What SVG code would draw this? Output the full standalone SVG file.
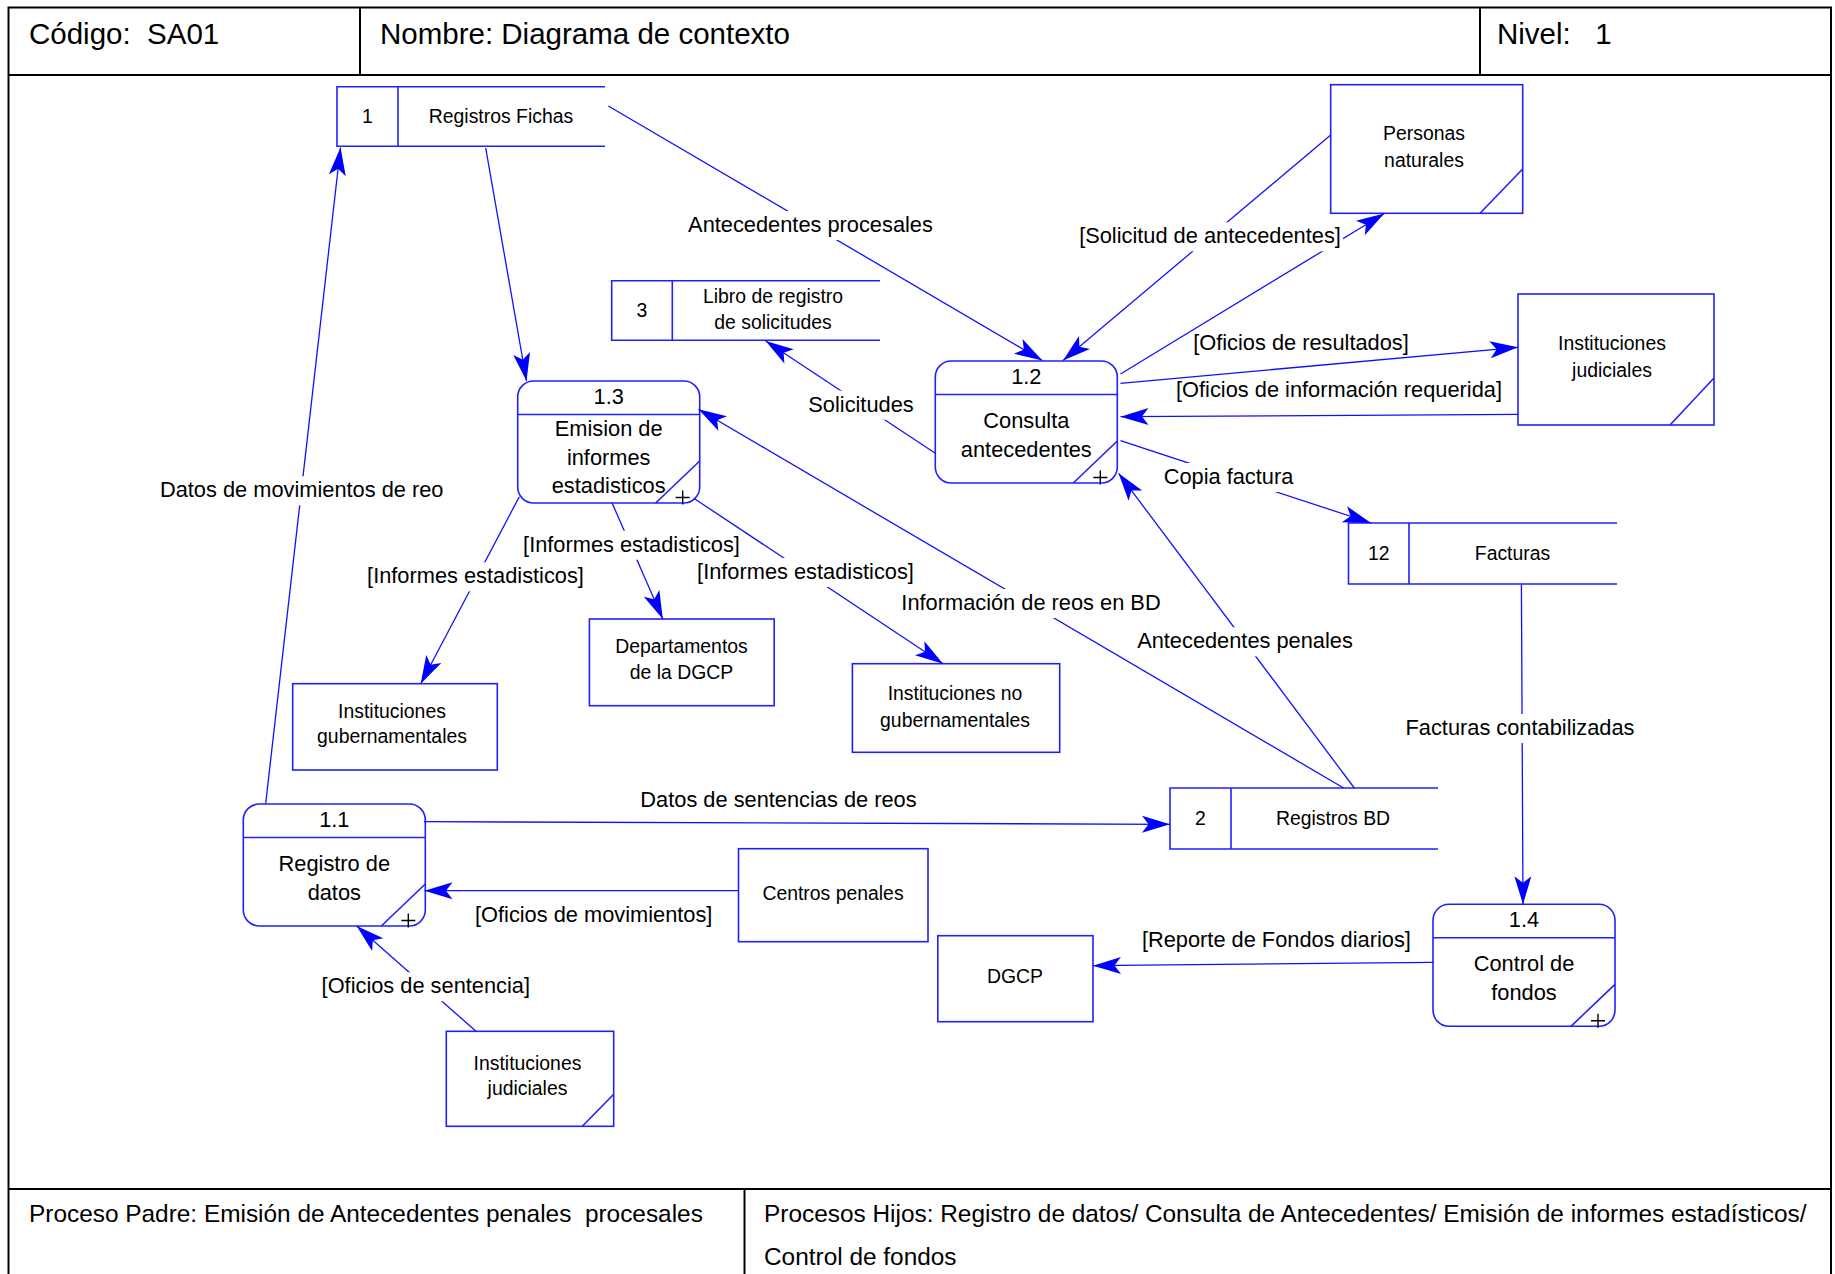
<svg xmlns="http://www.w3.org/2000/svg" xmlns:xlink="http://www.w3.org/1999/xlink" width="1835" height="1274" viewBox="0 0 1835 1274">
  <style>
    .frame { fill: none; stroke: #000; stroke-width: 2; }
    .node { fill: #fff; stroke: #2020ff; stroke-width: 1.6; }
    .ln { fill: none; stroke: #2020ff; stroke-width: 1.6; }
    .plus { fill: none; stroke: #000; stroke-width: 1.4; }
    .flow { fill: none; stroke: #1010ff; stroke-width: 1.3; marker-end: url(#arr); }
    .t { font-family: "Liberation Sans", Arial, sans-serif; fill: #000; }
    .hd { font-size: 29.5px; }
    .ft { font-size: 24.4px; }
    .lbl { font-size: 21.8px; text-anchor: middle; }
    .pt { font-size: 21.8px; text-anchor: middle; }
    .st { font-size: 19.4px; text-anchor: middle; }
    .bg { fill: #fff; stroke: none; }
  </style>
  <defs>
    <marker id="arr" markerUnits="userSpaceOnUse" viewBox="-30 -10 31 20" markerWidth="31" markerHeight="20" refX="0" refY="0" orient="auto">
      <path d="M0,0 L-28,-8.5 L-21.5,0 L-28,8.5 Z" fill="#0000ff"/>
    </marker>
    <!-- process bubble: rounded box, id band, duplicate corner and "+" for a refined process -->
    <g id="proc">
      <rect class="node" x="0" y="0" width="182" height="122" rx="16" ry="16"/>
      <line class="ln" x1="0" y1="33.5" x2="182" y2="33.5"/>
      <line class="ln" x1="138" y1="122" x2="182" y2="80"/>
      <path class="plus" d="M158,116.5 H172 M165,109.5 V123.5"/>
    </g>
  </defs>

  <rect width="1835" height="1274" fill="#fff"/>

  <!-- form frame -->
  <g id="frame">
    <rect class="frame" x="8.5" y="7.5" width="1822.5" height="1280"/>
    <line class="frame" x1="8.5" y1="75" x2="1831" y2="75"/>
    <line class="frame" x1="360" y1="7.5" x2="360" y2="75"/>
    <line class="frame" x1="1480" y1="7.5" x2="1480" y2="75"/>
    <line class="frame" x1="8.5" y1="1189" x2="1831" y2="1189"/>
    <line class="frame" x1="744.5" y1="1189" x2="744.5" y2="1280"/>
    <text class="t hd" x="29" y="44" xml:space="preserve">Código:  SA01</text>
    <text class="t hd" x="380" y="44">Nombre: Diagrama de contexto</text>
    <text class="t hd" x="1497" y="44" xml:space="preserve">Nivel:   1</text>
    <text class="t ft" x="29" y="1222" xml:space="preserve">Proceso Padre: Emisión de Antecedentes penales  procesales</text>
    <text class="t ft" x="764" y="1222">Procesos Hijos: Registro de datos/ Consulta de Antecedentes/ Emisión de informes estadísticos/</text>
    <text class="t ft" x="764" y="1265">Control de fondos</text>
  </g>

  <!-- processes -->
  <g id="p1_1" transform="translate(243.3,804)">
    <use xlink:href="#proc" href="#proc"/>
    <text class="t pt" x="91" y="22.5">1.1</text>
    <text class="t pt" x="91" y="67">Registro de</text>
    <text class="t pt" x="91" y="96">datos</text>
  </g>
  <g id="p1_2" transform="translate(935.3,361)">
    <use xlink:href="#proc" href="#proc"/>
    <text class="t pt" x="91" y="22.5">1.2</text>
    <text class="t pt" x="91" y="67">Consulta</text>
    <text class="t pt" x="91" y="96">antecedentes</text>
  </g>
  <g id="p1_3" transform="translate(517.7,381)">
    <use xlink:href="#proc" href="#proc"/>
    <text class="t pt" x="91" y="22.5">1.3</text>
    <text class="t pt" x="91" y="55">Emision de</text>
    <text class="t pt" x="91" y="83.5">informes</text>
    <text class="t pt" x="91" y="112">estadisticos</text>
  </g>
  <g id="p1_4" transform="translate(1433,904.3)">
    <use xlink:href="#proc" href="#proc"/>
    <text class="t pt" x="91" y="22.5">1.4</text>
    <text class="t pt" x="91" y="67">Control de</text>
    <text class="t pt" x="91" y="96">fondos</text>
  </g>

  <!-- data stores (open on the right) -->
  <g id="ds1">
    <path class="ln" d="M605,86.7 H337 V146.3 H605 M398,86.7 V146.3"/>
    <text class="t st" x="367.5" y="123">1</text>
    <text class="t st" x="501" y="123">Registros Fichas</text>
  </g>
  <g id="ds3">
    <path class="ln" d="M880,280.7 H611.7 V340.3 H880 M672.3,280.7 V340.3"/>
    <text class="t st" x="642" y="317">3</text>
    <text class="t st" x="773" y="303">Libro de registro</text>
    <text class="t st" x="773" y="329">de solicitudes</text>
  </g>
  <g id="ds12">
    <path class="ln" d="M1617,523 H1348.5 V584 H1617 M1409,523 V584"/>
    <text class="t st" x="1378.7" y="560">12</text>
    <text class="t st" x="1512.5" y="560">Facturas</text>
  </g>
  <g id="ds2">
    <path class="ln" d="M1438,788 H1170 V849 H1438 M1231,788 V849"/>
    <text class="t st" x="1200.5" y="825">2</text>
    <text class="t st" x="1333" y="825">Registros BD</text>
  </g>

  <!-- external entities -->
  <g id="e_personas">
    <rect class="node" x="1330.7" y="84.7" width="192" height="128.6"/>
    <line class="ln" x1="1480" y1="213.3" x2="1522.7" y2="169"/>
    <text class="t st" x="1424" y="140">Personas</text>
    <text class="t st" x="1424" y="166.7">naturales</text>
  </g>
  <g id="e_judiciales_a">
    <rect class="node" x="1518" y="294" width="196" height="131"/>
    <line class="ln" x1="1670" y1="425" x2="1714" y2="378"/>
    <text class="t st" x="1612" y="350">Instituciones</text>
    <text class="t st" x="1612" y="376.7">judiciales</text>
  </g>
  <g id="e_judiciales_b">
    <rect class="node" x="446.3" y="1031.3" width="167.4" height="95"/>
    <line class="ln" x1="582.3" y1="1126.3" x2="613.7" y2="1094.3"/>
    <text class="t st" x="527.5" y="1070">Instituciones</text>
    <text class="t st" x="527.5" y="1095">judiciales</text>
  </g>
  <g id="e_departamentos">
    <rect class="node" x="589.4" y="619" width="184.8" height="86.7"/>
    <text class="t st" x="681.5" y="652.7">Departamentos</text>
    <text class="t st" x="681.5" y="679">de la DGCP</text>
  </g>
  <g id="e_gubernamentales">
    <rect class="node" x="292.7" y="683.7" width="204.6" height="86.3"/>
    <text class="t st" x="392" y="717.7">Instituciones</text>
    <text class="t st" x="392" y="743.3">gubernamentales</text>
  </g>
  <g id="e_no_gubernamentales">
    <rect class="node" x="852.4" y="663.7" width="207.3" height="88.6"/>
    <text class="t st" x="955" y="700">Instituciones no</text>
    <text class="t st" x="955" y="726.7">gubernamentales</text>
  </g>
  <g id="e_centros">
    <rect class="node" x="738.5" y="848.7" width="189.5" height="93"/>
    <text class="t st" x="833" y="900">Centros penales</text>
  </g>
  <g id="e_dgcp">
    <rect class="node" x="937.8" y="935.7" width="155.2" height="86"/>
    <text class="t st" x="1015" y="982.7">DGCP</text>
  </g>

  <!-- data flows -->
  <g id="connectors">
    <line class="flow" x1="265.7" y1="803.5" x2="340.5" y2="147.5"/>
    <line class="flow" x1="485.7" y1="148" x2="526.5" y2="381"/>
    <line class="flow" x1="608.3" y1="106" x2="1042.4" y2="360.5"/>
    <line class="flow" x1="1330.7" y1="135" x2="1063" y2="360.5"/>
    <line class="flow" x1="1120.5" y1="374" x2="1384.3" y2="213.5"/>
    <line class="flow" x1="1120.5" y1="383.3" x2="1518" y2="347.3"/>
    <line class="flow" x1="1518" y1="414.3" x2="1120.5" y2="416.7"/>
    <line class="flow" x1="1120.5" y1="440.7" x2="1371" y2="523"/>
    <line class="flow" x1="935.3" y1="453.3" x2="765.7" y2="341"/>
    <line class="flow" x1="1343.6" y1="788" x2="698.5" y2="409.3"/>
    <line class="flow" x1="1354.3" y1="788" x2="1118.6" y2="473.3"/>
    <line class="flow" x1="1521.4" y1="584.5" x2="1523" y2="904.3"/>
    <line class="flow" x1="424" y1="821.7" x2="1170" y2="824.3"/>
    <line class="flow" x1="738.5" y1="890.7" x2="424.5" y2="890.7"/>
    <line class="flow" x1="476" y1="1031.3" x2="356.7" y2="926"/>
    <line class="flow" x1="1433" y1="962.3" x2="1093" y2="965.7"/>
    <line class="flow" x1="519.3" y1="496.7" x2="420.7" y2="683.7"/>
    <line class="flow" x1="612" y1="502.7" x2="662.8" y2="619"/>
    <line class="flow" x1="693.8" y1="498.3" x2="943" y2="663.7"/>
  </g>

  <!-- flow labels -->
  <g id="flow-labels">
    <rect class="bg" x="686" y="211" width="249" height="29"/>
    <text class="t lbl" x="810.5" y="232">Antecedentes procesales</text>
    <rect class="bg" x="1078" y="222.3" width="265" height="29"/>
    <text class="t lbl" x="1210" y="243.3">[Solicitud de antecedentes]</text>
    <text class="t lbl" x="1301" y="350">[Oficios de resultados]</text>
    <text class="t lbl" x="1339" y="396.7">[Oficios de información requerida]</text>
    <rect class="bg" x="1162" y="463" width="133" height="29"/>
    <text class="t lbl" x="1228.5" y="484">Copia factura</text>
    <rect class="bg" x="808" y="390.7" width="107" height="29"/>
    <text class="t lbl" x="861" y="411.7">Solicitudes</text>
    <rect class="bg" x="900" y="589" width="262" height="29"/>
    <text class="t lbl" x="1031" y="610">Información de reos en BD</text>
    <rect class="bg" x="1137" y="627.3" width="216" height="29"/>
    <text class="t lbl" x="1245" y="648.3">Antecedentes penales</text>
    <rect class="bg" x="1405" y="714" width="230" height="29"/>
    <text class="t lbl" x="1520" y="735">Facturas contabilizadas</text>
    <text class="t lbl" x="778.5" y="807">Datos de sentencias de reos</text>
    <text class="t lbl" x="593.7" y="921.7">[Oficios de movimientos]</text>
    <rect class="bg" x="320" y="972.3" width="212" height="29"/>
    <text class="t lbl" x="425.8" y="993.3">[Oficios de sentencia]</text>
    <text class="t lbl" x="1276.4" y="946.7">[Reporte de Fondos diarios]</text>
    <rect class="bg" x="365" y="562.3" width="221" height="29"/>
    <text class="t lbl" x="475.5" y="583.3">[Informes estadisticos]</text>
    <rect class="bg" x="521" y="530.7" width="220" height="29"/>
    <text class="t lbl" x="631.5" y="551.7">[Informes estadisticos]</text>
    <rect class="bg" x="694" y="558" width="222" height="29"/>
    <text class="t lbl" x="805.5" y="579">[Informes estadisticos]</text>
    <rect class="bg" x="159" y="476.3" width="285" height="29"/>
    <text class="t lbl" x="301.7" y="497.3">Datos de movimientos de reo</text>
  </g>
</svg>
